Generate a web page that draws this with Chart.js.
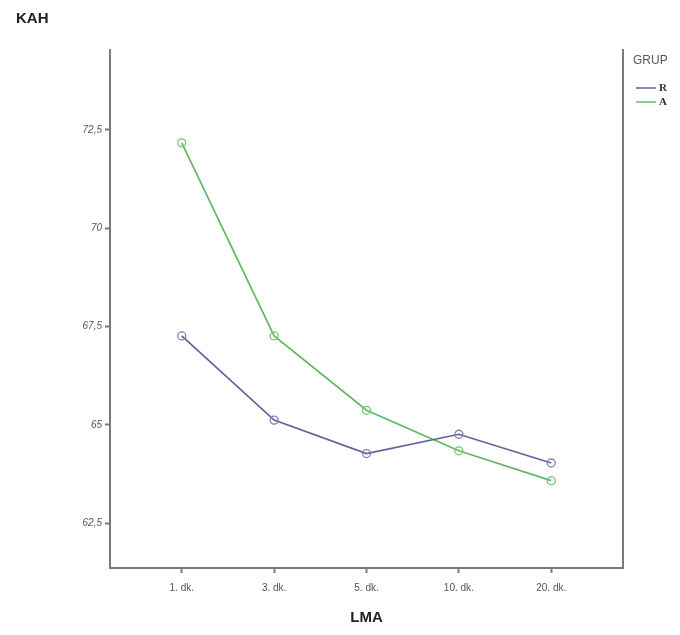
<!DOCTYPE html>
<html>
<head>
<meta charset="utf-8">
<script src="https://cdn.jsdelivr.net/npm/chart.js@4"></script>
<style>
  html, body { margin: 0; padding: 0; background: #fff; }
  #wrap { width: 680px; height: 635px; position: relative; }
</style>
</head>
<body>
<div id="wrap"><canvas id="chart"></canvas></div>
<script>
// --- data ---
const categories = ['1. dk.', '3. dk.', '5. dk.', '10. dk.', '20. dk.'];
const seriesR = [67.26, 65.12, 64.27, 64.76, 64.03];
const seriesA = [72.17, 67.26, 65.37, 64.34, 63.58];
const yTickValues = [62.5, 65, 67.5, 70, 72.5];
const yTickLabels = ['62,5', '65', '67,5', '70', '72,5'];

const axisColor = '#7a7a7a';
const colorR = '#61619a';
const colorA = '#62b862';

// points with category index on a linear x axis
function toPoints(values) {
  return values.map((v, i) => ({ x: i, y: v }));
}

// draws the "KAH" label and the GRUP legend
const decorations = {
  id: 'decorations',
  afterDraw(chart) {
    const c = chart.ctx;
    c.save();
    c.fillStyle = '#222';
    c.font = 'bold 15px "Liberation Sans", Arial, sans-serif';
    c.textAlign = 'left';
    c.textBaseline = 'middle';
    c.fillText('KAH', 16, 19);

    c.fillStyle = '#555';
    c.font = '12px "Liberation Sans", Arial, sans-serif';
    c.fillText('GRUP', 633, 61);

    chart.data.datasets.forEach((ds, i) => {
      const y = 88 + i * 14;
      c.strokeStyle = ds.borderColor;
      c.lineWidth = 1.5;
      c.beginPath();
      c.moveTo(636, y);
      c.lineTo(656, y);
      c.stroke();
      c.fillStyle = '#333';
      c.font = 'bold 11px "Liberation Serif", serif';
      c.fillText(ds.label, 659, y);
    });
    c.restore();
  }
};

new Chart(document.getElementById('chart'), {
  type: 'line',
  data: {
    datasets: [
      {
        label: 'R',
        data: toPoints(seriesR),
        borderColor: colorR,
        borderWidth: 1.7,
        pointRadius: 4,
        pointBorderWidth: 1.3,
        pointBorderColor: '#8080bb',
        pointBackgroundColor: 'rgba(255,255,255,0)',
        tension: 0
      },
      {
        label: 'A',
        data: toPoints(seriesA),
        borderColor: colorA,
        borderWidth: 1.7,
        pointRadius: 4,
        pointBorderWidth: 1.3,
        pointBorderColor: '#70c870',
        pointBackgroundColor: 'rgba(255,255,255,0)',
        tension: 0
      }
    ]
  },
  options: {
    responsive: true,
    maintainAspectRatio: false,
    animation: false,
    layout: { padding: { left: 0, top: 50, right: 57, bottom: 0 } },
    plugins: {
      legend: { display: false },
      tooltip: { enabled: false }
    },
    scales: {
      x: {
        type: 'linear',
        min: -0.777,
        max: 4.777,
        afterBuildTicks(scale) {
          scale.ticks = categories.map((_, i) => ({ value: i }));
        },
        afterFit(scale) { scale.height = 67; },
        grid: {
          drawOnChartArea: false,
          drawTicks: true,
          tickLength: 5,
          color: axisColor,
          tickWidth: 2
        },
        border: { display: true, color: axisColor, width: 2 },
        ticks: {
          padding: 9,
          color: '#555',
          font: { family: '"Liberation Sans", Arial, sans-serif', size: 10 },
          callback: (v) => categories[v]
        },
        title: {
          display: true,
          text: 'LMA',
          color: '#222',
          padding: { top: 2, bottom: 8 },
          font: { family: '"Liberation Sans", Arial, sans-serif', size: 15, weight: 'bold' }
        }
      },
      y: {
        type: 'linear',
        min: 61.36,
        max: 74.53,
        afterBuildTicks(scale) {
          scale.ticks = yTickValues.map(v => ({ value: v }));
        },
        afterFit(scale) { scale.width = 110; },
        grid: {
          drawOnChartArea: false,
          drawTicks: true,
          tickLength: 5,
          color: axisColor,
          tickWidth: 2
        },
        border: { display: true, color: axisColor, width: 2 },
        ticks: {
          padding: 3,
          color: '#555',
          font: { family: '"Liberation Sans", Arial, sans-serif', size: 10, style: 'italic' },
          callback: (v) => yTickLabels[yTickValues.indexOf(v)]
        }
      },
      right: {
        position: 'right',
        type: 'linear',
        min: 0,
        max: 1,
        afterFit(scale) { scale.width = 0; },
        grid: { display: false },
        ticks: { display: false },
        border: { display: true, color: axisColor, width: 2 }
      }
    }
  },
  plugins: [decorations]
});
</script>
</body>
</html>
